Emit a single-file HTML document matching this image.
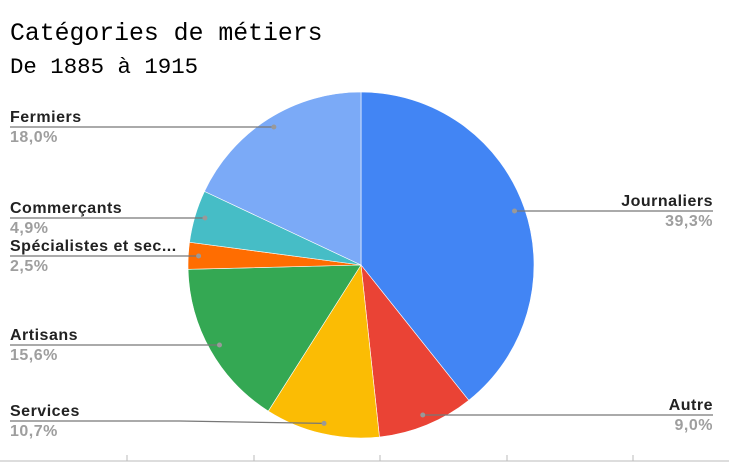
<!DOCTYPE html>
<html><head><meta charset="utf-8">
<style>
html,body{margin:0;padding:0;background:#fff;}
svg{display:block;}
.nm{font-family:"Liberation Sans",sans-serif;font-weight:bold;font-size:16px;letter-spacing:0.5px;fill:#222;}
.pc{font-family:"Liberation Sans",sans-serif;font-weight:bold;font-size:16px;letter-spacing:0.5px;fill:#9e9e9e;}
</style></head>
<body>
<svg id="chart" width="729" height="463">
<text x="10" y="40" font-family="Liberation Mono, monospace" font-size="24.8" fill="#000">Catégories de métiers</text>
<text x="10" y="73" font-family="Liberation Mono, monospace" font-size="22.4" fill="#000">De 1885 à 1915</text>
<line x1="0" y1="461" x2="729" y2="461" stroke="#bbb" stroke-width="1"/>
<g id="ticks"></g>
<g id="slices"></g>
<g id="labels"></g>
</svg>
<script>
const categories = ["Journaliers","Autre","Services","Artisans","Spécialistes et sec...","Commerçants","Fermiers"];
const values = [39.3, 9.0, 10.7, 15.6, 2.5, 4.9, 18.0];
const pctLabels = ["39,3%","9,0%","10,7%","15,6%","2,5%","4,9%","18,0%"];
const colors = ["#4285F4","#EA4335","#FBBC04","#34A853","#FF6D01","#46BDC6","#7BAAF7"];
const NS="http://www.w3.org/2000/svg";
const cx=361, cy=265, r=173;
const total=values.reduce((a,b)=>a+b,0);
function pt(frac,rad){const a=frac*2*Math.PI;return [cx+rad*Math.sin(a), cy-rad*Math.cos(a)];}
const sg=document.getElementById('slices'), lg=document.getElementById('labels'), tg=document.getElementById('ticks');
[127,254,380,507,633].forEach(x=>{
  const t=document.createElementNS(NS,'line');
  t.setAttribute('x1',x);t.setAttribute('x2',x);t.setAttribute('y1',455);t.setAttribute('y2',461);
  t.setAttribute('stroke','#bbb');
  
  
  tg.appendChild(t);
});
const labelY=[211,415,421,345,256,218,127];
let acc=0;
values.forEach((v,i)=>{
  const f0=acc/total, f1=(acc+v)/total, fm=(f0+f1)/2; acc+=v;
  const p0=pt(f0,r), p1=pt(f1,r);
  const large=(f1-f0)>0.5?1:0;
  const p=document.createElementNS(NS,'path');
  p.setAttribute('d',`M${cx},${cy} L${p0[0]},${p0[1]} A${r},${r} 0 ${large} 1 ${p1[0]},${p1[1]} Z`);
  p.setAttribute('fill',colors[i]);
  p.setAttribute('stroke','#fff');p.setAttribute('stroke-width','0.6');
  
  
  sg.appendChild(p);
  const d=pt(fm,r*0.94);
  const right=d[0]>cx;
  const ly=labelY[i];
  const x0=right?713:10;
  const line=document.createElementNS(NS,'polyline');
  let pts;
  if(Math.abs(d[1]-ly)>1.5){const bx=right?x0-180:x0+170;pts=`${x0},${ly} ${bx},${ly} ${d[0]},${d[1]}`;}
  else pts=`${x0},${ly} ${d[0]},${ly}`;
  line.setAttribute('points',pts);
  line.setAttribute('fill','none');line.setAttribute('stroke','#777');line.setAttribute('stroke-width','1.2');
  
  
  lg.appendChild(line);
  const dot=document.createElementNS(NS,'circle');
  dot.setAttribute('cx',d[0]);dot.setAttribute('cy',Math.abs(d[1]-ly)>1.5?d[1]:ly);dot.setAttribute('r',2.5);dot.setAttribute('fill','#999');
  
  
  lg.appendChild(dot);
  const t1=document.createElementNS(NS,'text');
  t1.setAttribute('x',x0);t1.setAttribute('y',ly-5);t1.setAttribute('class','nm');
  t1.setAttribute('text-anchor',right?'end':'start');
  t1.textContent=categories[i];
  
  
  lg.appendChild(t1);
  const t2=document.createElementNS(NS,'text');
  t2.setAttribute('x',x0);t2.setAttribute('y',ly+15);t2.setAttribute('class','pc');
  t2.setAttribute('text-anchor',right?'end':'start');
  t2.textContent=pctLabels[i];
  
  
  lg.appendChild(t2);
});
</script>
</body></html>
